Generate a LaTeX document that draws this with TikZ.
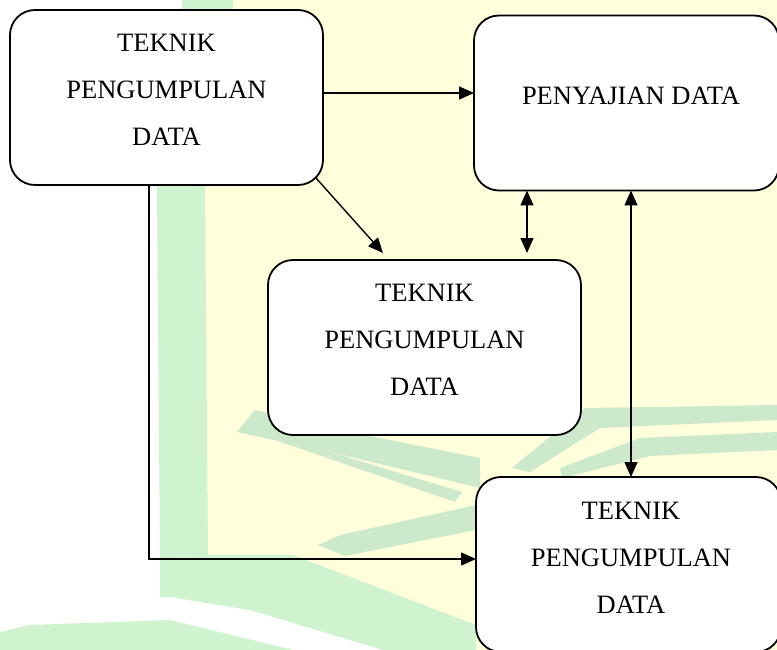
\documentclass[tikz,border=0pt]{standalone}
\usepackage{fontspec}
\setmainfont{Liberation Serif}
\usetikzlibrary{arrows.meta}
\definecolor{wmyellow}{RGB}{255,255,220}
\definecolor{wmgreen}{RGB}{206,243,206}
\definecolor{wmleaf}{RGB}{204,233,204}
\begin{document}
\begin{tikzpicture}[x=1pt,y=-1pt,
  box/.style={draw, line width=1.8pt, rounded corners=25pt, fill=white,
    minimum width=313pt, minimum height=175pt, inner sep=0pt, outer sep=0pt},
  txt/.style={align=center, font=\fontsize{26.5}{47}\selectfont, inner sep=0pt},
  tip/.tip={Triangle[length=15pt,width=13pt]},
  arr/.style={line width=1.4pt, -tip},
  darr/.style={line width=1.4pt, tip-tip}]
\useasboundingbox (0,0) rectangle (777,650);
% watermark
\fill[white] (0,0) rectangle (777,650);
\fill[wmyellow] (205,0) -- (777,0) -- (777,650) -- (476,650) -- (476,625) -- (293,555) -- (205,555) -- cycle;
\fill[wmgreen] (182,0) -- (233,0) -- (233,12) -- (205,185) -- (208,555) -- (160,555) -- (157,185) -- (182,12) -- cycle;
\fill[wmgreen] (160,555) -- (293,555) -- (476,625) -- (476,650) -- (383,650) -- (250,610) -- (170,597) -- (160,597) -- cycle;
\fill[wmgreen] (0,632) -- (30,625) -- (170,620) -- (293,650) -- (0,650) -- cycle;
\fill[wmleaf] (237,432) -- (255,410) -- (330,428) -- (480,458) -- (480,488) -- (330,452) -- cycle;
\fill[wmleaf] (275,440) -- (330,452) -- (462,492) -- (455,502) -- cycle;
\fill[wmleaf] (318,545) -- (340,535) -- (476,505) -- (476,530) -- (345,556) -- cycle;
\fill[wmleaf] (777,405) -- (777,420) -- (600,428) -- (530,472) -- (512,468) -- (585,408) -- cycle;
\fill[wmleaf] (777,432) -- (777,450) -- (650,456) -- (562,478) -- (560,468) -- (640,438) -- cycle;
% boxes
\node[box] (A) at (166.5,97.5) {};
\node[txt] (tA) at (166.5,90) {TEKNIK\\PENGUMPULAN\\DATA};
\node[box, minimum width=305pt] (B) at (626.5,103) {};
\node[txt] (tB) at (631,96) {PENYAJIAN DATA};
\node[box] (C) at (424.5,347.5) {};
\node[txt] (tC) at (424.5,340) {TEKNIK\\PENGUMPULAN\\DATA};
\node[box, minimum width=305pt] (D) at (628.5,564.5) {};
\node[txt] (tD) at (631,558) {TEKNIK\\PENGUMPULAN\\DATA};
% connectors
\draw[arr] ([yshift=4.5pt]A.east) coordinate (a1) -- (a1 -| B.west);
\draw[arr] ([xshift=-7.3pt,yshift=7.3pt]A.south east) -- ([xshift=-41.5pt,yshift=7pt]C.north);
\coordinate (c1) at ([yshift=7pt]C.north);
\draw[darr] ([xshift=-99.5pt]B.south) coordinate (b1) -- (b1 |- c1);
\draw[darr] ([xshift=4.5pt]B.south) coordinate (b2) -- (b2 |- D.north);
\draw[arr] ([xshift=-17.5pt]A.south) |- ([yshift=5.5pt]D.west);
\end{tikzpicture}
\end{document}
